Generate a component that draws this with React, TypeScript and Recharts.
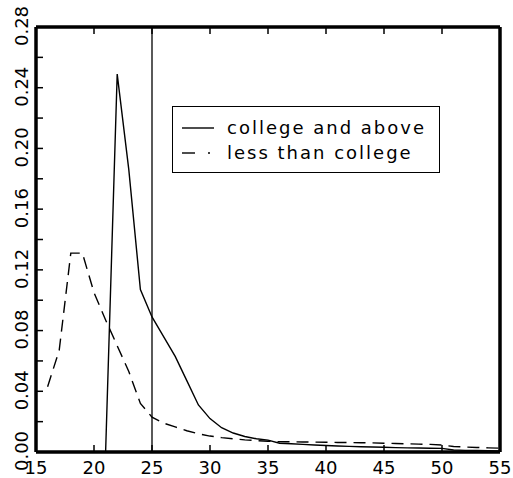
import React from "react";
import { LineChart, Line, XAxis, YAxis, ReferenceLine } from "recharts";

const ages = [16, 17, 18, 19, 20, 21, 22, 23, 24, 25, 26, 27, 28, 29, 30, 31, 32, 33, 34, 35,
  36, 37, 38, 39, 40, 41, 42, 43, 44, 45, 46, 47, 48, 49, 50, 51, 52, 53, 54, 55];

const collegeAndAbove = [null, null, null, null, null, 0, 0.249, 0.186, 0.107, 0.089, 0.076, 0.063, 0.047, 0.031, 0.022, 0.016, 0.0125, 0.0102, 0.0087, 0.0078,
  0.0058, 0.0054, 0.005, 0.0046, 0.0043, 0.004, 0.0037, 0.0035, 0.0033, 0.0031, 0.0029, 0.0027, 0.0026, 0.0025, 0.0024, 0.0013, 0.0011, 0.001, 0.0008, 0.0007];

const lessThanCollege = [0.043, 0.067, 0.131, 0.131, 0.105, 0.087, 0.07, 0.053, 0.032, 0.023, 0.019, 0.0165, 0.014, 0.012, 0.0105, 0.0095, 0.0087, 0.008, 0.0075, 0.0071,
  0.0068, 0.0067, 0.0066, 0.0065, 0.0064, 0.0063, 0.0062, 0.0061, 0.006, 0.0058, 0.0056, 0.0054, 0.0052, 0.005, 0.0046, 0.0036, 0.0033, 0.003, 0.0027, 0.0025];

const xTicks = [15, 20, 25, 30, 35, 40, 45, 50, 55];
const yTicks = [0, 0.02, 0.04, 0.06, 0.08, 0.1, 0.12, 0.14, 0.16, 0.18, 0.2, 0.22, 0.24, 0.26, 0.28];

const seriesNames = ["college and above", "less than college"];

const data = ages.map((a, i) => ({ age: a, college: collegeAndAbove[i], less: lessThanCollege[i] }));

const FONT = "'DejaVu Sans', sans-serif";
const TICK = 7;
const AXIS = { stroke: "#000", strokeWidth: 3.5 };

const BottomTick = (props: any) => {
  const { x, y, payload } = props;
  return (
    <g>
      <line x1={x} y1={y} x2={x} y2={y - TICK} stroke="#000" strokeWidth={1.5} />
      <text x={x} y={y + 22} textAnchor="middle" fontFamily={FONT} fontSize={18} fill="#000">
        {payload.value}
      </text>
    </g>
  );
};

const TopTick = (props: any) => {
  const { x, y } = props;
  return <line x1={x} y1={y} x2={x} y2={y + TICK} stroke="#000" strokeWidth={1.5} />;
};

const LeftTick = (props: any) => {
  const { x, y, payload } = props;
  const v = payload.value as number;
  const major = Math.round(v * 100) % 4 === 0;
  const cy = y - 1;
  const cx = 21.5;
  return (
    <g>
      <line x1={x} y1={y} x2={x + TICK} y2={y} stroke="#000" strokeWidth={1.5} />
      {major && (
        <text
          x={cx}
          y={cy}
          transform={`rotate(-90 ${cx} ${cy})`}
          textAnchor="middle"
          dominantBaseline="central"
          fontFamily={FONT}
          fontSize={18}
          fill="#000"
        >
          {v.toFixed(2)}
        </text>
      )}
    </g>
  );
};

const RightTick = (props: any) => {
  const { x, y } = props;
  return <line x1={x} y1={y} x2={x - TICK} y2={y} stroke="#000" strokeWidth={1.5} />;
};

export default function App() {
  return (
    <div style={{ position: "absolute", left: 0, top: 0, width: 513, height: 478, background: "#fff" }}>
      <LineChart width={513} height={478} data={data} margin={{ top: 26, right: 0, left: 0, bottom: 0 }}>
        <XAxis dataKey="age" type="number" domain={[15, 55]} ticks={xTicks} height={26} tickSize={0} tickMargin={0}
          tickLine={false} axisLine={AXIS} tick={<BottomTick />} interval={0} />
        <XAxis xAxisId="top" orientation="top" dataKey="age" type="number" domain={[15, 55]} ticks={xTicks} height={1}
          tickSize={0} tickMargin={0} tickLine={false} axisLine={AXIS} tick={<TopTick />} interval={0} />
        <YAxis width={36} domain={[0, 0.28]} ticks={yTicks} tickSize={0} tickMargin={0} tickLine={false}
          axisLine={AXIS} tick={<LeftTick />} interval={0} />
        <YAxis yAxisId="right" orientation="right" width={13} domain={[0, 0.28]} ticks={yTicks} tickSize={0}
          tickMargin={0} tickLine={false} axisLine={AXIS} tick={<RightTick />} interval={0} />
        <ReferenceLine x={25} stroke="#000" strokeWidth={1.3} />
        <Line dataKey="college" name={seriesNames[0]} stroke="#000" strokeWidth={1.4} dot={false} type="linear"
          isAnimationActive={false} />
        <Line dataKey="less" name={seriesNames[1]} stroke="#000" strokeWidth={1.4} strokeDasharray="12 7" dot={false}
          type="linear" isAnimationActive={false} />
      </LineChart>
      <div
        style={{
          position: "absolute",
          left: 172,
          top: 106,
          width: 266,
          height: 65,
          border: "1.5px solid #000",
          background: "#fff",
        }}
      >
        <svg width={266} height={65}>
          <line x1={9} y1={21} x2={41} y2={21} stroke="#000" strokeWidth={1.4} />
          <text x={54} y={27} fontFamily={FONT} fontSize={18} letterSpacing={2} fill="#000">
            {seriesNames[0]}
          </text>
          <line x1={9} y1={46} x2={22} y2={46} stroke="#000" strokeWidth={1.4} />
          <line x1={35} y1={46} x2={37} y2={46} stroke="#000" strokeWidth={1.4} />
          <text x={54} y={52} fontFamily={FONT} fontSize={18} letterSpacing={2} fill="#000">
            {seriesNames[1]}
          </text>
        </svg>
      </div>
    </div>
  );
}
